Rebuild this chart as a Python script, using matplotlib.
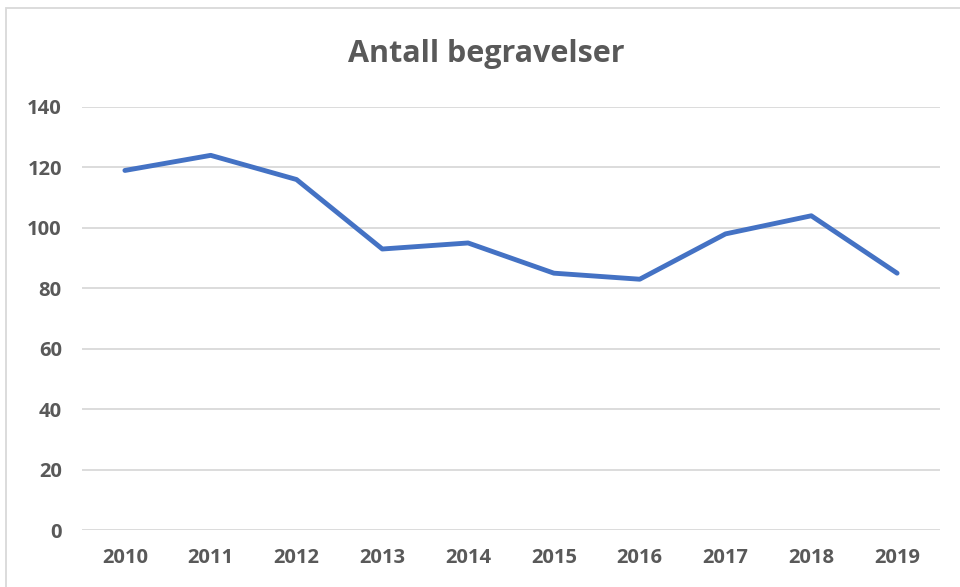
import matplotlib
matplotlib.use("Agg")
import matplotlib.pyplot as plt
from matplotlib.patches import Rectangle

years = ["2010", "2011", "2012", "2013", "2014", "2015", "2016", "2017", "2018", "2019"]
burials = [119, 124, 116, 93, 95, 85, 83, 98, 104, 85]
yticks = [0, 20, 40, 60, 80, 100, 120, 140]

plt.rcParams['font.family'] = ['Open Sans', 'DejaVu Sans']
grey = '#595959'

fig = plt.figure(figsize=(9.6, 5.87), dpi=100)
ax = fig.add_axes([82/960, 1-530/587, (940-82)/960, (530-107)/587])

x = list(range(len(years)))
ax.plot(x, burials, color='#4472C4', linewidth=3.5, solid_capstyle='round', solid_joinstyle='round', zorder=3)

ax.set_xlim(-0.5, len(years)-0.5)
ax.set_ylim(0, 140)
ax.set_yticks(yticks)
ax.set_yticklabels([str(v) for v in yticks])
ax.set_xticks(x)
ax.set_xticklabels(years)
ax.grid(axis='y', color='#D9D9D9', linewidth=1.3, zorder=0)
ax.set_axisbelow(True)
for s in ax.spines.values():
    s.set_visible(False)
ax.tick_params(axis='both', length=0, labelsize=14.5, labelcolor=grey)
ax.tick_params(axis='y', pad=14.5)
ax.tick_params(axis='x', pad=13)
for lbl in ax.get_xticklabels() + ax.get_yticklabels():
    lbl.set_fontweight('bold')

fig.text(486/960, 1-54/587, "Antall begravelser", ha='center', va='center',
         fontsize=22, fontweight='bold', color=grey)

fig.patches.append(Rectangle((6/960, -0.05), 1.1, 1-8/587+0.05, transform=fig.transFigure,
                             fill=False, edgecolor='#D9D9D9', linewidth=1.3))

fig.savefig("out.png", dpi=100)
